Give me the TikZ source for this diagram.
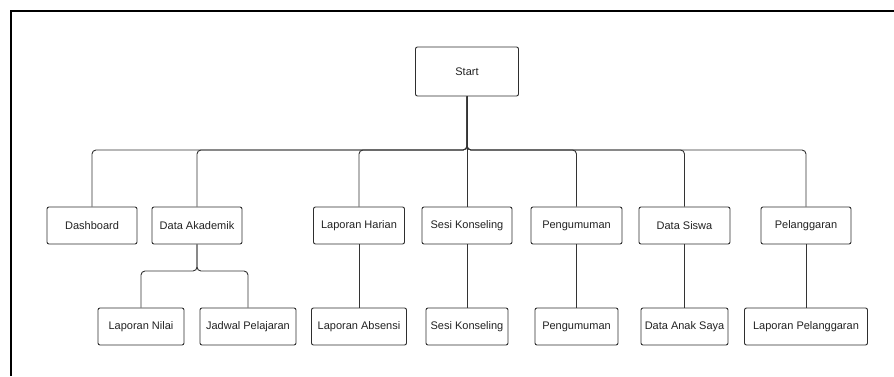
\documentclass[tikz,border=0pt]{standalone}
\usepackage{fontspec}
\setmainfont{Liberation Sans}
\begin{document}
\begin{tikzpicture}[x=1pt,y=-1pt,
  box/.style={draw=boxline,line width=0.9pt,rounded corners=2pt,fill=white,
    text=labeltext,font=\fontsize{11}{13}\selectfont,inner sep=0pt,
    minimum height=37pt},
  conn/.style={draw=linecol,line width=0.9pt,rounded corners=4pt}]
\definecolor{boxline}{HTML}{2E2E2E}
\definecolor{linecol}{HTML}{333333}
\definecolor{labeltext}{HTML}{222222}
\useasboundingbox (0,0) rectangle (894,376);
% frame edges
\draw[line width=2pt,black] (11,376) -- (11,11) -- (894,11);

% root
\node[box,minimum width=103pt,minimum height=49pt] (start) at (467,71.5) {Start};

% first level
\node[box,minimum width=90pt] (dash) at (92,225.5) {Dashboard};
\node[box,minimum width=90pt] (akad) at (197,225.5) {Data Akademik};
\node[box,minimum width=91pt] (harian) at (359,225.5) {Laporan Harian};
\node[box,minimum width=90pt] (sesi) at (467,225.5) {Sesi Konseling};
\node[box,minimum width=91pt] (umum) at (576.5,225.5) {Pengumuman};
\node[box,minimum width=91pt] (siswa) at (684.5,225.5) {Data Siswa};
\node[box,minimum width=90pt] (langgar) at (806,225.5) {Pelanggaran};

% second level
\node[box,minimum width=86pt] (nilai) at (141,326.5) {Laporan Nilai};
\node[box,minimum width=96pt] (jadwal) at (248,326.5) {Jadwal Pelajaran};
\node[box,minimum width=95pt] (absensi) at (359,326.5) {Laporan Absensi};
\node[box,minimum width=82pt] (sesi2) at (467,326.5) {Sesi Konseling};
\node[box,minimum width=83pt] (umum2) at (576.5,326.5) {Pengumuman};
\node[box,minimum width=87pt] (anak) at (684.5,326.5) {Data Anak Saya};
\node[box,minimum width=123pt] (lapl) at (806,326.5) {Laporan Pelanggaran};

% bus junctions
\coordinate (bus) at (467,150);
\coordinate (subbus) at (197,271);

% root to first level
\foreach \n in {dash,akad,harian,umum,siswa,langgar}
  \draw[conn] (start.south) -- (bus) -| (\n.north);
\draw[conn] (start.south) -- (sesi.north);

% Data Akademik branches
\draw[conn] (akad.south) -- (subbus) -| (nilai.north);
\draw[conn] (akad.south) -- (subbus) -| (jadwal.north);

% single children
\draw[conn] (harian.south) -- (absensi.north);
\draw[conn] (sesi.south) -- (sesi2.north);
\draw[conn] (umum.south) -- (umum2.north);
\draw[conn] (siswa.south) -- (anak.north);
\draw[conn] (langgar.south) -- (lapl.north);
\end{tikzpicture}
\end{document}
